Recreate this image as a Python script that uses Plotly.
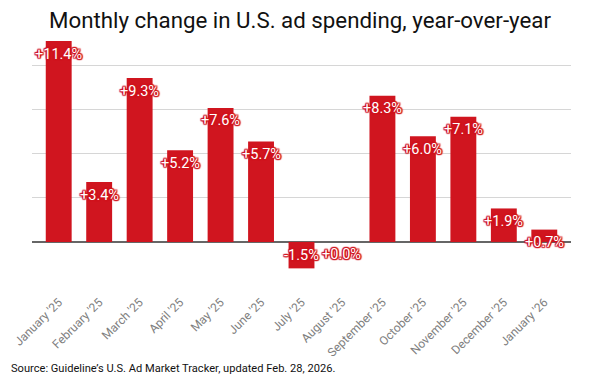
import plotly.graph_objects as go

months = ["January '25", "February '25", "March '25", "April '25", "May '25", "June '25",
          "July '25", "August '25", "September '25", "October '25", "November '25",
          "December '25", "January '26"]
changes = [11.4, 3.4, 9.3, 5.2, 7.6, 5.7, -1.5, 0.0, 8.3, 6.0, 7.1, 1.9, 0.7]
labels = [("+" if v >= 0 else "") + f"{v:.1f}%" for v in changes]

RED = "#d0151f"
fig = go.Figure()
fig.add_trace(go.Bar(x=months, y=changes, marker_color=RED, width=0.64,
                     marker_line_width=0, hoverinfo="skip"))

outline = ", ".join(f"{dx}px {dy}px 1px {RED}" for dx in (-1, 0, 1) for dy in (-1, 0, 1) if dx or dy)
for m, v, t in zip(months, changes, labels):
    fig.add_annotation(x=m, y=v, text=t, showarrow=False,
                       yshift=(-13 if v >= 0 else 13), xanchor="center", yanchor="middle",
                       font=dict(family="Roboto", size=14.5, color="white", shadow=outline))

fig.add_annotation(x=-0.0424, y=-0.335, xref="paper", yref="paper", xanchor="left", yanchor="middle",
                   text="Source: Guideline\u2019s U.S. Ad Market Tracker, updated Feb. 28, 2026.",
                   showarrow=False, font=dict(family="Roboto", size=11.1, color="#111"))

fig.update_layout(
    width=600, height=375, paper_bgcolor="white", plot_bgcolor="white",
    margin=dict(l=29, r=29, t=41, b=89), showlegend=False,
    title=dict(text="Monthly change in U.S. ad spending, year-over-year", x=0.5, xanchor="center",
               y=1 - 20 / 375, yanchor="middle", yref="container",
               font=dict(family="Roboto", size=22.3, color="#111")),
    xaxis=dict(range=[-0.66, 12.66], tickangle=-45, tickfont=dict(family="Roboto", size=12, color="#808080"),
               showgrid=False, showline=False, ticks="", ticklabelstandoff=6),
    yaxis=dict(range=[-2.5, 11.4], dtick=2.5, tick0=0, showticklabels=False, gridcolor="#d6d6d6",
               gridwidth=1, zeroline=True, zerolinecolor="#666", zerolinewidth=1.5),
)
fig.write_html("out.html", config={"displayModeBar": False},
               post_script="document.body.style.margin='0px';")
